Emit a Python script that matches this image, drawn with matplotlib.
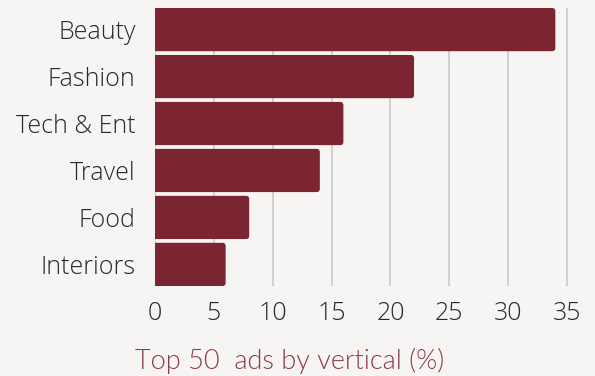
import matplotlib
matplotlib.use("Agg")
import matplotlib.pyplot as plt
from matplotlib import font_manager as fm
from matplotlib.patches import FancyBboxPatch

categories = ["Beauty", "Fashion", "Tech & Ent", "Travel", "Food", "Interiors"]
shares = [34, 22, 16, 14, 8, 6]
xticks = [0, 5, 10, 15, 20, 25, 30, 35]

bg = "#f7f5f3"
bar_color = "#7a2531"
label_color = "#8c3a4b"


def font_file(name, fallback):
    for f in fm.fontManager.ttflist:
        if f.fname.endswith(name):
            return fm.FontProperties(fname=f.fname)
    return fm.FontProperties(family=fallback)


tick_font = font_file("OpenSans-Light.ttf", "DejaVu Sans")
title_font = font_file("Lato-Light.ttf", "DejaVu Sans")

fig = plt.figure(figsize=(5.95, 3.76), dpi=100, facecolor=bg)
ax = fig.add_axes([155 / 595, 1 - 286 / 376, (573 - 155) / 595, (286 - 8) / 376])
ax.set_facecolor(bg)

h = 0.92
ypos = list(range(len(categories)))
bars = ax.barh(ypos, shares, height=h, color=bar_color, zorder=2)

# swap plain rectangles for ones with rounded ends
for b in bars:
    x0, y0 = b.get_x(), b.get_y()
    w, hh = b.get_width(), b.get_height()
    b.set_visible(False)
    rb = FancyBboxPatch((x0 - 0.5, y0), w + 0.5, hh,
                        boxstyle="round,pad=0,rounding_size=0.28",
                        mutation_aspect=0.25, facecolor=bar_color,
                        edgecolor="none", zorder=2)
    ax.add_patch(rb)

ax.set_xlim(0, 35.5)
ax.set_ylim(len(categories) - 1 + h / 2, -h / 2)
ax.set_yticks(ypos)
ax.set_yticklabels(categories)
ax.set_xticks(xticks)

for s in ax.spines.values():
    s.set_visible(False)
ax.xaxis.grid(True, color="#d3d1cf", linewidth=1.4, zorder=0)
ax.set_axisbelow(True)
ax.tick_params(axis="both", length=0, colors="#282828")
ax.tick_params(axis="y", pad=14)
ax.tick_params(axis="x", pad=11)
for t in ax.get_xticklabels() + ax.get_yticklabels():
    t.set_fontproperties(tick_font)
    t.set_fontsize(18)

fig.text(135 / 595, 1 - 369 / 376, "Top 50  ads by vertical (%)",
         fontproperties=title_font, fontsize=19.5, color=label_color,
         ha="left", va="baseline")

fig.savefig("out.png", dpi=100, facecolor=bg)
